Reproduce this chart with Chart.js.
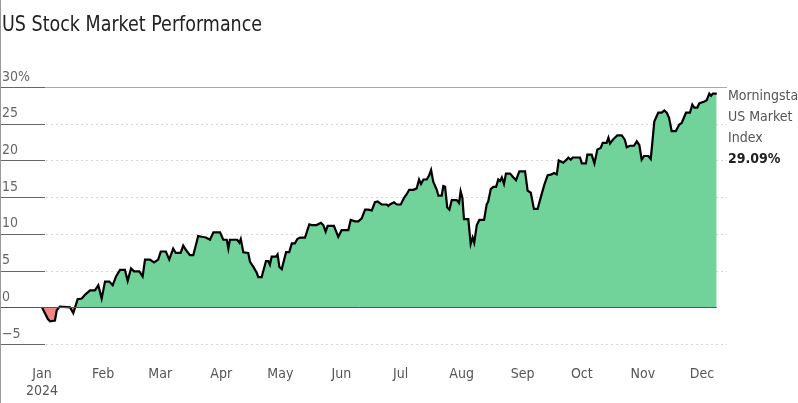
<!DOCTYPE html>
<html>
<head>
<meta charset="utf-8">
<script src="https://cdn.jsdelivr.net/npm/chart.js@4.4.1/dist/chart.umd.min.js"></script>
<style>
  body { margin: 0; background: #fff; }
  #wrap { position: relative; width: 798px; height: 403px; overflow: hidden; }
  #title {
    position: absolute; left: 2px; top: 12px;
    font-family: 'DejaVu Sans Condensed', 'Liberation Sans Narrow', Roboto, sans-serif;
    font-size: 22px; line-height: 23px; color: #222; white-space: nowrap;
    transform: scaleX(0.885); transform-origin: 0 0;
  }
  #edge { position: absolute; left: 0; top: 0; width: 1px; height: 403px; background: #999; }
</style>
</head>
<body>
<div id="wrap">
  <canvas id="chart" width="798" height="403"></canvas>
  <div id="title">US Stock Market Performance</div>
  <div id="edge"></div>
</div>
<script>
// cumulative return 2024, day of year (0 = Jan 1) vs percent
const days = [0, 1.5, 3.0, 4.1, 6.6, 7.5, 9.1, 14.2, 15.9, 18.1, 20.2, 21.8, 24.4, 26.9, 28.6, 30.3,
  32.0, 34.2, 35.9, 37.6, 39.6, 42.1, 43.5, 45.2, 46.7, 49.4, 51.1, 52.3, 54.8, 56.9, 59.0, 60.3,
  62.9, 64.6, 66.6, 67.9, 70.4, 71.7, 73.1, 75.1, 76.8, 79.3, 81.1, 83.2, 85.3, 87.0, 90.4, 92.0,
  93.8, 94.6, 95.4, 99.1, 100.2, 100.9, 102.2, 104.7, 105.6, 107.3, 109.0, 109.8, 111.5, 113.7,
  114.9, 115.7, 116.6, 118.8, 119.6, 120.5, 121.7, 123.9, 125.5, 126.8, 128.4, 129.6, 131.0, 133.5,
  135.7, 136.9, 139.4, 141.6, 142.8, 144.0, 145.0, 148.2, 150.4, 152.1, 155.5, 156.7, 158.9, 160.6,
  162.3, 164.0, 165.6, 167.4, 169.0, 170.4, 172.4, 175.0, 175.8, 176.6, 178.7, 180.1, 182.1, 183.8,
  185.1, 186.4, 188.5, 190.2, 191.4, 192.4, 193.6, 195.3, 196.4, 197.5, 198.6, 200.4, 201.2, 202.9,
  203.7, 204.6, 205.7, 206.8, 208.0, 210.5, 211.7, 212.5, 213.4, 214.2, 216.4, 217.6, 218.6, 219.4,
  220.7, 222.0, 224.4, 225.7, 226.5, 227.8, 229.1, 230.5, 231.6, 232.5, 233.4, 234.5, 235.5, 237.6,
  239.2, 240.6, 242.3, 245.2, 246.5, 248.1, 249.7, 251.6, 253.3, 255.0, 256.7, 258.7, 259.9, 261.3,
  262.3, 264.6, 266.3, 267.2, 268.4, 269.4, 273.1, 274.0, 276.1, 276.8, 279.0, 280.4, 281.9, 283.6,
  284.6, 286.6, 287.5, 288.3, 290.0, 292.0, 294.3, 295.9, 296.8, 298.5, 300.5, 301.9, 303.2, 304.4,
  305.6, 307.8, 309.0, 310.0, 310.8, 312.8, 314.6, 315.9, 317.1, 318.3, 319.6, 321.7, 323.5, 324.7,
  326.9, 328.9, 330.1, 331.1, 332.6, 333.7, 336.0, 337.4, 338.7, 339.6, 340.5, 342.5];
const returns = [0, -0.8, -1.6, -1.9, -1.8, -0.4, 0.1, 0.0, -0.8, 1.1, 1.2, 1.7, 2.3, 2.3, 3.0, 1.2,
  3.5, 3.5, 3.0, 4.2, 5.1, 5.1, 3.6, 5.3, 4.9, 4.9, 4.2, 6.5, 6.5, 6.1, 6.5, 7.6,
  7.6, 6.5, 8.0, 7.4, 7.4, 8.4, 7.8, 7.1, 7.1, 9.7, 9.6, 9.5, 9.2, 10.2, 10.2, 9.2,
  9.2, 8.0, 9.2, 9.2, 8.8, 9.3, 7.5, 7.4, 6.2, 5.5, 4.7, 4.1, 4.1, 6.3,
  6.3, 5.8, 6.9, 6.9, 7.2, 5.5, 5.2, 7.5, 7.5, 8.7, 8.7, 9.3, 9.5, 9.5,
  11.3, 11.2, 11.2, 11.5, 11.2, 10.3, 11.1, 11.1, 9.6, 10.5, 10.5, 11.9, 11.7, 11.7,
  12.1, 13.3, 13.3, 13.2, 14.3, 14.4, 14.0, 14.0, 13.8, 14.0, 14.3, 14.0, 14.0, 14.9,
  15.4, 16.0, 16.0, 16.2, 17.4, 16.8, 17.4, 17.4, 17.9, 18.7, 17.1, 16.0, 15.2, 15.2,
  16.5, 16.4, 13.6, 13.3, 14.6, 14.6, 14.2, 15.8, 14.9, 12.0, 12.0, 8.6, 9.5, 8.8,
  11.2, 11.9, 11.9, 14.0, 14.4, 16.1, 16.4, 16.4, 17.4, 17.2, 17.7, 16.8, 18.2, 18.2,
  17.7, 17.3, 18.5, 18.5, 15.9, 15.6, 13.4, 13.4, 15.1, 16.7, 18.0, 18.1, 18.3, 18.1,
  20.0, 19.7, 20.1, 20.4, 20.1, 20.4, 20.4, 19.6, 19.6, 20.8, 20.8, 19.6, 21.5, 21.7,
  22.4, 22.4, 23.1, 22.3, 22.9, 23.4, 23.4, 22.8, 21.8, 22.0, 22.0, 22.6, 22.1, 20.1,
  20.6, 20.6, 20.2, 23.0, 25.3, 26.5, 26.5, 26.8, 26.5, 25.8, 24.0, 24.0, 24.9, 25.1,
  26.5, 26.5, 27.6, 27.2, 27.2, 27.8, 28.0, 28.2, 29.1, 28.8, 29.1, 29.09];

const monthStarts = [0, 31, 60, 91, 121, 152, 182, 213, 244, 274, 305, 335];
const monthLabels = ["Jan", "Feb", "Mar", "Apr", "May", "Jun", "Jul", "Aug", "Sep", "Oct", "Nov", "Dec"];
const yearLabel = "2024";
const yTicks = [-5, 0, 5, 10, 15, 20, 25, 30];
const seriesName = ["Morningstar", "US Market", "Index"];

const FONT = "'DejaVu Sans Condensed', 'Liberation Sans Narrow', Roboto, sans-serif";

// grid lines: short solid tick at left, dotted rest; 0 and top line solid
const gridPlugin = {
  id: "gridLines",
  beforeDatasetsDraw(chart) {
    const { ctx, chartArea, scales: { y } } = chart;
    ctx.save();
    yTicks.forEach(v => {
      const py = Math.round(y.getPixelForValue(v)) + 0.5;
      if (v === 0) return;
      ctx.setLineDash([]);
      ctx.strokeStyle = "#666";
      ctx.lineWidth = 1;
      ctx.beginPath(); ctx.moveTo(0, py); ctx.lineTo(45, py); ctx.stroke();
      if (v === 30) {
        ctx.strokeStyle = "#aaa";
        ctx.beginPath(); ctx.moveTo(45, py); ctx.lineTo(chartArea.right, py); ctx.stroke();
      } else {
        ctx.setLineDash([2, 3]);
        ctx.strokeStyle = "#d6d6d6";
        ctx.beginPath(); ctx.moveTo(46, py); ctx.lineTo(chartArea.right, py); ctx.stroke();
      }
    });
    ctx.restore();
  },
  afterDatasetsDraw(chart) {
    const { ctx, chartArea, scales: { x, y } } = chart;
    ctx.save();
    const py = Math.round(y.getPixelForValue(0)) + 0.5;
    ctx.strokeStyle = "#555";
    ctx.lineWidth = 1;
    ctx.beginPath(); ctx.moveTo(0, py); ctx.lineTo(x.getPixelForValue(days[days.length - 1]), py); ctx.stroke();

    // series label at right
    const lx = chartArea.right + 1;
    ctx.textBaseline = "middle";
    ctx.textAlign = "left";
    ctx.font = "14px " + FONT;
    ctx.fillStyle = "#555";
    seriesName.forEach((t, i) => ctx.fillText(t, lx, 96 + i * 21));
    ctx.font = "bold 14px " + FONT;
    ctx.fillStyle = "#222";
    ctx.fillText(returns[returns.length - 1].toFixed(2) + "%", lx, 159);
    ctx.restore();
  }
};

new Chart(document.getElementById("chart"), {
  type: "line",
  data: {
    datasets: [{
      label: seriesName.join(" "),
      data: days.map((d, i) => ({ x: d, y: returns[i] })),
      borderColor: "#000",
      borderWidth: 2.2,
      pointRadius: 0,
      tension: 0,
      fill: { target: "origin", above: "#72d39a", below: "#f08783" }
    }]
  },
  options: {
    responsive: false,
    animation: false,
    layout: { padding: { top: 87, right: 71, bottom: 5, left: 0 } },
    plugins: { legend: { display: false }, tooltip: { enabled: false } },
    scales: {
      x: {
        type: "linear",
        min: -21.3,
        max: 347.7,
        grid: { display: false, drawTicks: false },
        border: { display: false },
        afterBuildTicks: s => { s.ticks = monthStarts.map(v => ({ value: v })); },
        afterFit: s => { s.height = 54; },
        ticks: {
          autoSkip: false,
          maxRotation: 0,
          padding: 22,
          color: "#555",
          font: { family: FONT, size: 14, lineHeight: 1.2 },
          callback: v => {
            const i = monthStarts.indexOf(v);
            return i === 0 ? [monthLabels[0], yearLabel] : monthLabels[i];
          }
        }
      },
      y: {
        min: -5,
        max: 30,
        grid: { display: false, drawTicks: false },
        border: { display: false },
        afterBuildTicks: s => { s.ticks = yTicks.map(v => ({ value: v })); },
        afterFit: s => { s.width = 0; },
        ticks: {
          mirror: true,
          padding: 2,
          labelOffset: -10,
          color: "#666",
          font: { family: FONT, size: 14 },
          callback: v => v === 30 ? "30%" : (v < 0 ? "\u2212" + Math.abs(v) : String(v))
        }
      }
    }
  },
  plugins: [gridPlugin]
});
</script>
</body>
</html>
